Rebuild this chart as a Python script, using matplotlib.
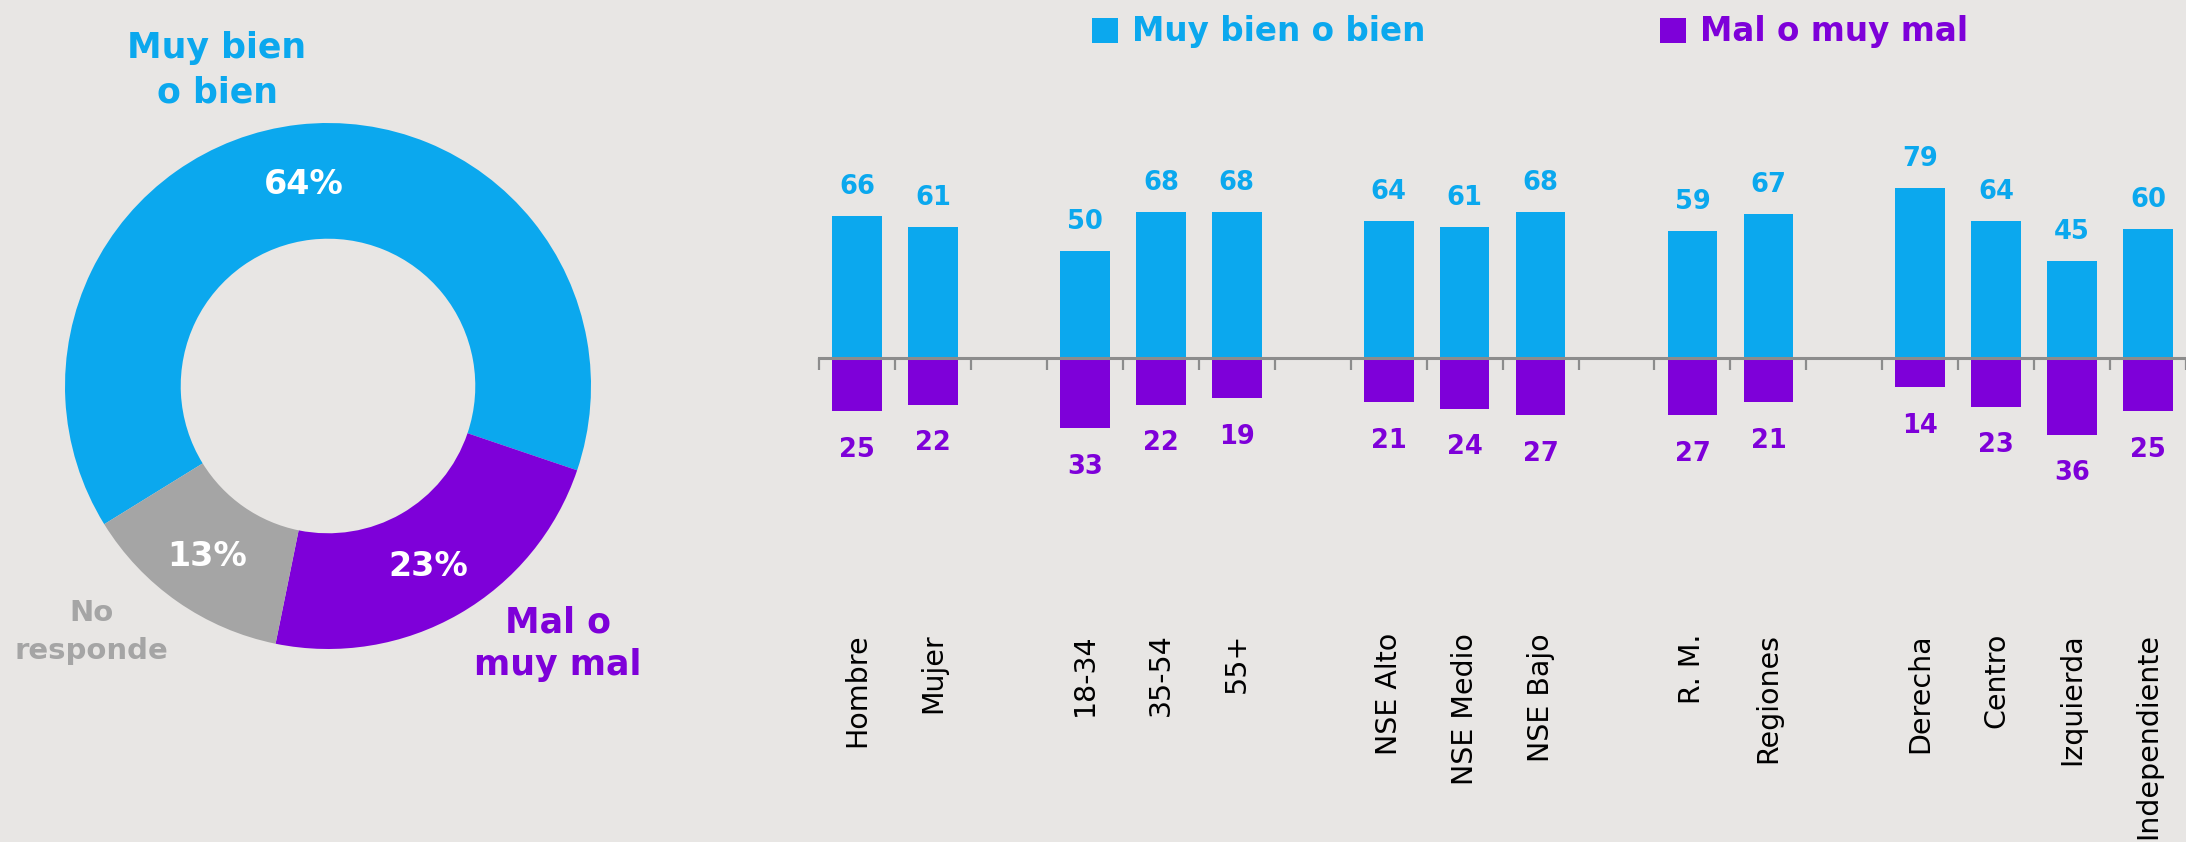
import matplotlib
matplotlib.use("Agg")
import matplotlib.pyplot as plt
from matplotlib.patches import Rectangle
import numpy as np

# ---------------- data ----------------
donut_labels = ["Muy bien\no bien", "Mal o\nmuy mal", "No\nresponde"]
donut_values = [64, 23, 13]

categories = ["Hombre", "Mujer", "", "18-34", "35-54", "55+", "",
              "NSE Alto", "NSE Medio", "NSE Bajo", "",
              "R. M.", "Regiones", "",
              "Derecha", "Centro", "Izquierda", "Independiente"]
good_values = [66, 61, None, 50, 68, 68, None, 64, 61, 68, None, 59, 67, None, 79, 64, 45, 60]
bad_values = [25, 22, None, 33, 22, 19, None, 21, 24, 27, None, 27, 21, None, 14, 23, 36, 25]
legend_labels = ["Muy bien o bien", "Mal o muy mal"]

# ---------------- style ----------------
BLUE = "#0BA8EE"
PURPLE = "#7E00D9"
GRAY = "#A5A5A5"
BG = "#E8E6E4"
AXIS = "#8C8C8C"
FONT = "DejaVu Sans"

W, H, DPI = 2186, 842, 100
fig = plt.figure(figsize=(W / DPI, H / DPI), dpi=DPI, facecolor=BG)

# ---------------- donut ----------------
cx, cy, R = 328, 386, 263
half = 1.3
side = 2 * half * R
axd = fig.add_axes([(cx - side / 2) / W, (H - cy - side / 2) / H, side / W, side / H])
axd.set_facecolor(BG)
axd.pie(donut_values, colors=[BLUE, PURPLE, GRAY], startangle=211.7,
        counterclock=False, radius=1.0,
        wedgeprops=dict(width=0.44, edgecolor="none"))
axd.set_xlim(-half, half)
axd.set_ylim(-half, half)
axd.set_aspect("equal")
axd.axis("off")


def px2d(x, y):
    return (x - cx) / R, (cy - y) / R


pct_pos = [(304, 185), (428, 567), (207, 557)]
for v, (x, y) in zip(donut_values, pct_pos):
    dx, dy = px2d(x, y)
    axd.text(dx, dy, f"{v}%", color="white", fontsize=24, fontweight="bold",
             family=FONT, ha="center", va="center")

lab_pos = [(217, 70), (558, 644), (91, 632)]
lab_col = [BLUE, PURPLE, GRAY]
lab_size = [25, 25, 21]
lab_ls = [1.4, 1.3, 1.45]
for t, (x, y), c, s, ls in zip(donut_labels, lab_pos, lab_col, lab_size, lab_ls):
    dx, dy = px2d(x, y)
    axd.text(dx, dy, t, color=c, fontsize=s, fontweight="bold", family=FONT,
             ha="center", va="center", linespacing=ls, multialignment="center")

# ---------------- bars ----------------
x0_px, step_px = 857.5, 76.5
zero_px, unit_px = 357.5, 2.14
n = len(categories)
x_left = -0.5
x_right = (W - x0_px) / step_px
y_top, y_bot = 100, -40
ax_left_px = x0_px + x_left * step_px
top_px = zero_px - y_top * unit_px
bot_px = zero_px - y_bot * unit_px
axb = fig.add_axes([ax_left_px / W, (H - bot_px) / H, (W - ax_left_px) / W, (bot_px - top_px) / H])
axb.set_facecolor("none")
axb.set_xlim(x_left, x_right)
axb.set_ylim(y_bot, y_top)

xs = np.arange(n)
bw = 50 / step_px
for i in range(n):
    g, b = good_values[i], bad_values[i]
    if g is not None:
        axb.bar(xs[i], g, width=bw, color=BLUE, zorder=2)
        axb.annotate(str(g), (xs[i], g), xytext=(0, 15.8), textcoords="offset points",
                     ha="center", va="baseline", color=BLUE, fontsize=18.5,
                     fontweight="bold", family=FONT, annotation_clip=False)
    if b is not None:
        axb.bar(xs[i], -b, width=bw, color=PURPLE, zorder=2)
        axb.annotate(str(b), (xs[i], -b), xytext=(0, -32.8), textcoords="offset points",
                     ha="center", va="baseline", color=PURPLE, fontsize=18.5,
                     fontweight="bold", family=FONT, annotation_clip=False)

for s in ["top", "right", "left"]:
    axb.spines[s].set_visible(False)
axb.spines["bottom"].set_position(("data", 0))
axb.spines["bottom"].set_color(AXIS)
axb.spines["bottom"].set_linewidth(2.2)
axb.spines["bottom"].set_zorder(3)
axb.set_yticks([])

tick_idx = [i for i, c in enumerate(categories) if c]
axb.set_xticks(tick_idx)
axb.set_xticklabels([categories[i] for i in tick_idx], rotation=90, family=FONT,
                    fontsize=20.5, color="black")
axb.set_xticks(np.arange(-0.5, n + 0.5, 1.0), minor=True)
axb.tick_params(axis="x", which="major", length=0, pad=(633 - zero_px) * 0.72)
axb.tick_params(axis="x", which="minor", length=8.5, width=1.6, color=AXIS, direction="out")

# ---------------- legend ----------------
sq = [(1092, 18, 26, 25), (1660, 18, 26, 25)]
txt_x = [1132, 1700]
for (x, y, w, h), tx, lbl, col in zip(sq, txt_x, legend_labels, [BLUE, PURPLE]):
    fig.add_artist(Rectangle((x / W, (H - y - h) / H), w / W, h / H,
                             transform=fig.transFigure, color=col, lw=0))
    fig.text(tx / W, (H - 41) / H, lbl, color=col, fontsize=23.5, fontweight="bold",
             family=FONT, ha="left", va="baseline")

fig.savefig("out.png", dpi=DPI, facecolor=BG)
